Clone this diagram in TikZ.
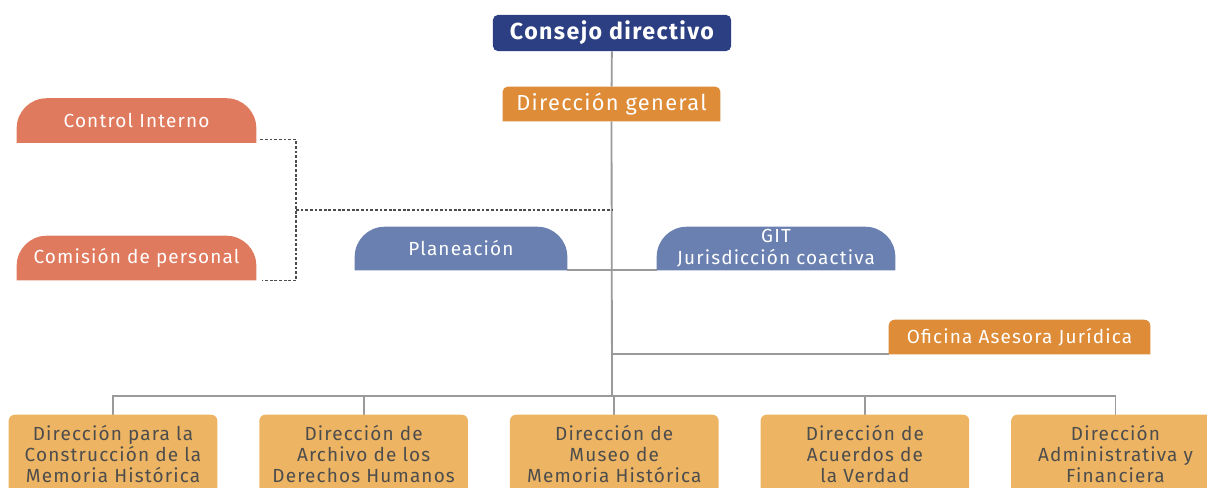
\documentclass[tikz,border=0pt]{standalone}
\usepackage{fontspec}
\setmainfont{Fira Sans}[LetterSpace=6]
\usepackage{xcolor}
\usetikzlibrary{positioning,backgrounds}

\definecolor{navy}{HTML}{2B3F82}
\definecolor{ocre}{HTML}{DE8C38}
\definecolor{salmon}{HTML}{E07A5E}
\definecolor{pizarra}{HTML}{6A80B0}
\definecolor{arena}{HTML}{EDB563}
\definecolor{tinta}{HTML}{4D4D4D}
\definecolor{linea}{HTML}{9A9A9A}

% fill behind a node: rounded top corners, flat bottom
\newcommand{\tabfill}[3]{%
  \fill[#3] (#1.south west) -- ([yshift=-#2]#1.north west)
    arc[start angle=180, end angle=90, radius=#2] -- ([xshift=-#2]#1.north east)
    arc[start angle=90, end angle=0, radius=#2] -- (#1.south east) -- cycle;}

\begin{document}
\begin{tikzpicture}[x=0.025cm, y=-0.025cm, node distance=1.05cm]
    \tikzstyle{box} = [text=white, align=center, inner sep=0pt,
        font=\fontsize{13.5}{15.5}\selectfont]
    \tikzstyle{jefe} = [box, fill=navy, rounded corners=0.12cm,
        minimum width=5.95cm, minimum height=0.9cm, font=\bfseries\fontsize{16.5}{18}\selectfont]
    \tikzstyle{asesor} = [box, minimum width=5.975cm, minimum height=1.1cm]
    \tikzstyle{apoyo} = [box, minimum height=1.075cm]
    \tikzstyle{direccion} = [box, text=tinta, minimum width=5.2cm, minimum height=1.95cm,
        font=\fontsize{13.5}{15}\selectfont]
    \tikzstyle{line} = [draw=linea, line width=1.3pt]
    \tikzstyle{dotline} = [draw=black!70, line width=0.9pt, dash pattern=on 2pt off 1.3pt]

    \useasboundingbox (0,0) rectangle (1207,487);
    \clip (0,0) rectangle (1207,487);

    \node [jefe] (consejo) at (612,33) {Consejo directivo};
    \node [box, minimum width=5.425cm, minimum height=0.85cm,
        font=\fontsize{15.5}{17}\selectfont] (general) at (611.5,104) {Dirección general};
    \node [asesor] (control) at (136.5,120.5) {Control Interno};
    \node [asesor] (comision) at (136.5,258) {Comisión de personal};
    \node [apoyo, minimum width=5.3cm] (planeacion) at (461,248.5) {Planeación};
    \node [apoyo, minimum width=5.95cm] (git) at (776,248.5) {GIT\\Jurisdicción coactiva};
    \node [box, minimum width=6.525cm, minimum height=0.85cm] (oficina) at (1019.5,337) {Oficina Asesora Jurídica};

    \node [direccion] (memoria) at (113,454) {Dirección para la\\Construcción de la\\Memoria Histórica};
    \node [direccion, right=of memoria] (archivo) {Dirección de\\Archivo de los\\Derechos Humanos};
    \node [direccion, right=of archivo] (museo) {Dirección de\\Museo de\\Memoria Histórica};
    \node [direccion, right=of museo] (acuerdos) {Dirección de\\Acuerdos de\\la Verdad};
    \node [direccion, right=of acuerdos] (financiera) {Dirección\\Administrativa y\\Financiera};

    \coordinate (cruce) at (296,210);
    \coordinate (tronco) at (612,210);
    \coordinate (bus) at (612,396);

    \begin{scope}[on background layer]
        \path [line] (consejo) -- (general);
        \path [line] (general.south) -- (bus);
        \path [line] (planeacion.south east) -- (git.south west);
        \path [line] (oficina.south west) -- (oficina.south west -| general.south);
        \path [line] (memoria.north) |- (bus) -| (financiera.north);
        \foreach \n in {archivo,museo,acuerdos}
            \path [line] (\n.north) -- (\n.north |- bus);
        \path [dotline] ([xshift=0.1cm,yshift=0.075cm]control.south east) -| (cruce)
            |- ([xshift=0.15cm]comision.south east);
        \path [dotline] (cruce) -- (tronco);

        \tabfill{general}{0.12cm}{ocre}
        \tabfill{oficina}{0.15cm}{ocre}
        \tabfill{control}{0.75cm}{salmon}
        \tabfill{comision}{0.75cm}{salmon}
        \tabfill{planeacion}{0.75cm}{pizarra}
        \tabfill{git}{0.75cm}{pizarra}
        \foreach \n in {memoria,archivo,museo,acuerdos,financiera}
            {\tabfill{\n}{0.15cm}{arena}}
    \end{scope}
\end{tikzpicture}
\end{document}
